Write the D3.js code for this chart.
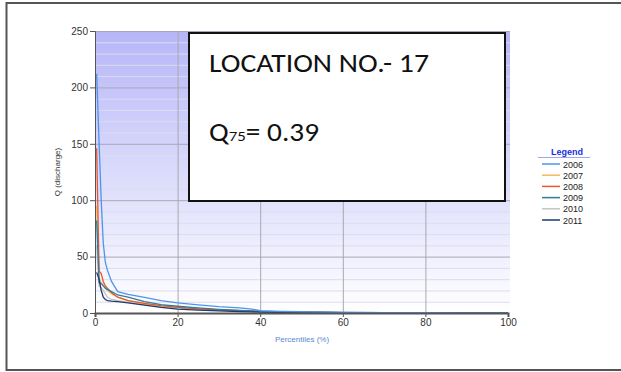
<!DOCTYPE html>
<html><head><meta charset="utf-8">
<script src="https://cdn.jsdelivr.net/npm/d3@7"></script>
<style>body{margin:0;background:#fff}svg{display:block}</style>
</head><body>
<svg id="c" width="621" height="372"></svg>
<script>
const percentiles = [0.4, 1, 1.5, 2, 2.5, 3, 4, 5.5, 8, 12, 16, 20, 25, 30, 35, 38, 40, 45, 50, 60, 70, 80, 90, 100];
const q2006 = [212, 150, 100, 62, 45, 38, 28, 19, 16.5, 13.8, 11, 9, 7.2, 5.6, 4.5, 3.5, 2, 1.5, 1.1, 0.6, 0.3, 0.2, 0.1, 0];
const q2007 = [95, 30, 27, 25, 22, 20, 17, 14, 11, 8, 6, 5, 3.8, 2.8, 2, 1.5, 1.2, 0.9, 0.7, 0.4, 0.2, 0.1, 0.05, 0];
const q2008 = [146, 37, 35, 28, 24, 22, 18, 14, 11, 8.5, 6.5, 5, 3.6, 2.8, 2, 1.6, 1.2, 0.9, 0.7, 0.4, 0.2, 0.1, 0.05, 0];
const q2009 = [82, 27, 26, 24, 22, 21, 19, 16, 14, 10, 7.5, 6, 4.5, 3.2, 2.3, 1.8, 1.4, 1, 0.8, 0.5, 0.2, 0.1, 0.05, 0];
const q2010 = [60, 24, 22, 20, 17, 14, 12, 11, 9.5, 7.5, 5.5, 4.5, 3.2, 2.4, 1.8, 1.3, 1, 0.8, 0.6, 0.3, 0.2, 0.1, 0.05, 0];
const q2011 = [36, 30, 20, 14, 12, 11, 10.5, 10, 9, 7, 5, 3.5, 2.5, 1.8, 1.2, 1, 0.8, 0.6, 0.5, 0.3, 0.15, 0.1, 0.05, 0];
const years = ["2006", "2007", "2008", "2009", "2010", "2011"];
const seriesValues = [q2006, q2007, q2008, q2009, q2010, q2011];
const colors = ["#4f94ec", "#f6b860", "#e8582c", "#2f7d9c", "#c4c4c4", "#1f3a6c"];
const xTicks = [0, 20, 40, 60, 80, 100];
const yTicks = [0, 50, 100, 150, 200, 250];
const yMinor = d3.range(0, 251, 10);
const boxLine1 = "LOCATION NO.- 17";
const boxQ = "Q", boxSub = "75", boxVal = "= 0.39";

const svg = d3.select("#c");
const font = "'Liberation Sans', Arial, sans-serif";
const calibri = "Carlito, Lato, 'Open Sans', 'Liberation Sans', sans-serif";

// outer frame
svg.append("rect").attr("x", 6.5).attr("y", 3).attr("width", 700).attr("height", 367)
  .attr("fill", "#fff").attr("stroke", "#555").attr("stroke-width", 2);

const L = 95, R = 508, T = 31, B = 313;
const x = d3.scaleLinear().domain([0, 100]).range([L, R]);
const y = d3.scaleLinear().domain([0, 250]).range([B, T]);

const defs = svg.append("defs");
const grad = defs.append("linearGradient").attr("id", "bg").attr("x1", 0).attr("x2", 0).attr("y1", 0).attr("y2", 1);
grad.append("stop").attr("offset", "0%").attr("stop-color", "#b6b6f8");
grad.append("stop").attr("offset", "100%").attr("stop-color", "#ffffff");

svg.append("rect").attr("x", L).attr("y", T).attr("width", R - L + 2).attr("height", B - T).attr("fill", "url(#bg)");

// minor gridlines
svg.append("g").selectAll("line").data(yMinor.filter(v => v % 50 !== 0)).join("line")
  .attr("x1", L).attr("x2", R + 2).attr("y1", d => y(d) + 0.5).attr("y2", d => y(d) + 0.5)
  .attr("stroke", "#dcdcf0").attr("stroke-width", 1);
// major gridlines
svg.append("g").selectAll("line").data(yTicks.filter(v => v > 0)).join("line")
  .attr("x1", L).attr("x2", R + 2).attr("y1", d => y(d) + 0.5).attr("y2", d => y(d) + 0.5)
  .attr("stroke", "#a8a8b8").attr("stroke-width", 1);
svg.append("g").selectAll("line").data(xTicks.filter(v => v > 0 && v < 100)).join("line")
  .attr("x1", d => x(d) + 0.5).attr("x2", d => x(d) + 0.5).attr("y1", T).attr("y2", B)
  .attr("stroke", "#a8a8b0").attr("stroke-width", 1);

// lines
const line = d3.line().x((d, i) => x(percentiles[i])).y(d => y(d));
const order = [4, 1, 2, 3, 5, 0];
order.forEach(k => {
  svg.append("path").datum(seriesValues[k]).attr("d", line)
    .attr("fill", "none").attr("stroke", colors[k]).attr("stroke-width", 1.3);
});

// axes
const yAxis = d3.axisLeft(y).tickValues(yTicks).tickSize(5).tickPadding(2);
const gy = svg.append("g").attr("transform", `translate(${L},0)`).call(yAxis);
gy.select(".domain").attr("stroke", "#555");
gy.selectAll(".tick line").attr("stroke", "#555");
gy.selectAll("text").attr("font-family", font).attr("font-size", 10).attr("fill", "#333");

const xAxis = d3.axisBottom(x).tickValues(xTicks).tickSize(4).tickPadding(2);
const gx = svg.append("g").attr("transform", `translate(0,${B})`).call(xAxis);
gx.select(".domain").attr("stroke", "#555").attr("stroke-width", 2);
gx.selectAll(".tick line").attr("stroke", "#555");
gx.selectAll("text").attr("font-family", font).attr("font-size", 10).attr("fill", "#333");

// axis titles
svg.append("text").attr("transform", `translate(60,172) rotate(-90)`).attr("text-anchor", "middle")
  .attr("font-family", font).attr("font-size", 8).attr("fill", "#333").text("Q (discharge)");
svg.append("text").attr("x", 302).attr("y", 342).attr("text-anchor", "middle")
  .attr("font-family", font).attr("font-size", 8).attr("fill", "#5a8ad0").text("Percentiles (%)");

// text box
svg.append("rect").attr("x", 189).attr("y", 33).attr("width", 316).attr("height", 168)
  .attr("fill", "#fff").attr("stroke", "#111").attr("stroke-width", 2);
svg.append("text").attr("x", 209).attr("y", 72).attr("font-family", calibri).attr("font-size", 26)
  .attr("textLength", 220).attr("lengthAdjust", "spacingAndGlyphs")
  .attr("fill", "#111").text(boxLine1);
const t2 = svg.append("text").attr("x", 209).attr("y", 141).attr("font-family", calibri).attr("font-size", 26)
  .attr("textLength", 110).attr("lengthAdjust", "spacingAndGlyphs").attr("fill", "#111");
t2.append("tspan").text(boxQ);
t2.append("tspan").attr("font-size", 15).text(boxSub);
t2.append("tspan").attr("font-size", 26).text(boxVal);

// legend
svg.append("text").attr("x", 567).attr("y", 155).attr("text-anchor", "middle")
  .attr("font-family", font).attr("font-size", 9).attr("font-weight", "bold").attr("fill", "#1a2ee0").text("Legend");
svg.append("line").attr("x1", 538).attr("x2", 590).attr("y1", 157.5).attr("y2", 157.5).attr("stroke", "#9aa8f0").attr("stroke-width", 1);
const lg = svg.append("g").selectAll("g").data(years).join("g")
  .attr("transform", (d, i) => `translate(0,${164 + i * 11.2})`);
lg.append("line").attr("x1", 542).attr("x2", 560).attr("y1", 0).attr("y2", 0)
  .attr("stroke", (d, i) => colors[i]).attr("stroke-width", 1.5);
lg.append("text").attr("x", 563).attr("y", 3.5).attr("font-family", font).attr("font-size", 9)
  .attr("fill", "#222").text(d => d);
</script>
</body></html>
